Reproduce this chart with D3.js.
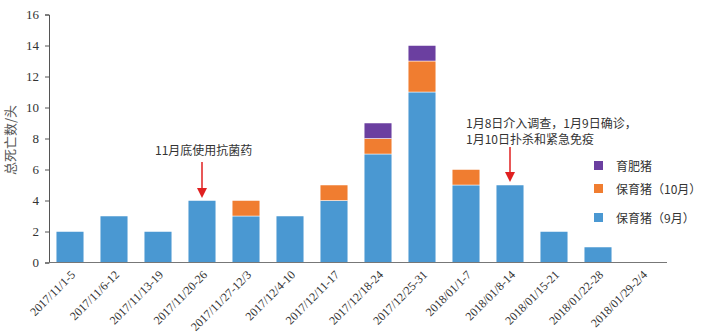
<!DOCTYPE html>
<html><head><meta charset="utf-8">
<script src="https://cdn.jsdelivr.net/npm/d3@7"></script>
<style>body{margin:0;background:#fff;}svg{display:block;}</style>
</head><body>
<svg id="c" width="705" height="336"></svg>
<script>
const categories = ["2017/11/1-5","2017/11/6-12","2017/11/13-19","2017/11/20-26","2017/11/27-12/3","2017/12/4-10","2017/12/11-17","2017/12/18-24","2017/12/25-31","2018/01/1-7","2018/01/8-14","2018/01/15-21","2018/01/22-28","2018/01/29-2/4"];
const sept = [2,3,2,4,3,3,4,7,11,5,5,2,1,0];
const oct = [0,0,0,0,1,0,1,1,2,1,0,0,0,0];
const fattening = [0,0,0,0,0,0,0,1,1,0,0,0,0,0];
const seriesNames = ["保育猪（9月）","保育猪（10月）","育肥猪"];
const colors = ["#4A98D2","#F07D30","#6B3FA0"];
const yTicks = [0,2,4,6,8,10,12,14,16];
const yTitle = "总死亡数/头";
const note1 = {cat:"2017/11/20-26", lines:["11月底使用抗菌药"]};
const note2 = {cat:"2018/01/8-14", lines:["1月8日介入调查，1月9日确诊，","1月10日扑杀和紧急免疫"]};

const svg = d3.select("#c");
const x = d3.scaleBand().domain(categories).range([48,664]).paddingInner(0.37).paddingOuter(0.185);
const y = d3.scaleLinear().domain([0,16]).range([262.5,14.5]);

const data = categories.map((c,i)=>({cat:c, s0:sept[i], s1:oct[i], s2:fattening[i]}));
const stack = d3.stack().keys(["s0","s1","s2"])(data);

svg.append("g").selectAll("g").data(stack).join("g")
  .attr("fill",(d,i)=>colors[i])
  .selectAll("rect").data(d=>d.filter(v=>v[1]>v[0])).join("rect")
  .attr("x",d=>x(d.data.cat)).attr("width",x.bandwidth())
  .attr("y",d=>y(d[1])).attr("height",d=>y(d[0])-y(d[1]))
  .attr("stroke","#fff").attr("stroke-width",0.5);

// y axis
const ya = svg.append("g").attr("transform","translate(49,0)")
  .call(d3.axisLeft(y).tickValues(yTicks).tickSize(4).tickSizeOuter(4));
ya.select(".domain").attr("stroke","#555");
ya.selectAll(".tick line").attr("stroke","#555");
ya.selectAll("text").attr("font-family","Liberation Serif").attr("font-size",13).attr("fill","#333").attr("dx",-3);

// x axis
const xa = svg.append("g").attr("transform","translate(0,262.5)")
  .call(d3.axisBottom(x).tickSize(0).tickSizeOuter(0));
xa.select(".domain").remove();
svg.append("line").attr("x1",49).attr("x2",667).attr("y1",262.5).attr("y2",262.5).attr("stroke","#777").attr("stroke-width",1.2);
xa.selectAll("text").attr("font-family","Liberation Serif").attr("font-size",12).attr("fill","#333")
  .attr("text-anchor","end").attr("transform","translate(-2,5) rotate(-45)").attr("dy","0.7em");

// y title
svg.append("text").attr("transform","translate(15,140) rotate(-90)").attr("text-anchor","middle")
  .attr("font-family","Noto Sans CJK SC").attr("font-size",13).attr("fill","#555").text(yTitle);

// annotations
function arrow(cx, y1, y2){
  svg.append("line").attr("x1",cx).attr("x2",cx).attr("y1",y1).attr("y2",y2-8).attr("stroke","#E02020").attr("stroke-width",1.5);
  svg.append("path").attr("d",`M${cx-5},${y2-10}L${cx+5},${y2-10}L${cx},${y2}Z`).attr("fill","#E02020");
}
const c1 = x(note1.cat)+x.bandwidth()/2;
svg.append("text").attr("x",155).attr("y",155).attr("font-family","Noto Sans CJK SC, Liberation Sans").attr("font-size",12).attr("fill","#333").text(note1.lines[0]);
arrow(c1,162,198);
const c2 = x(note2.cat)+x.bandwidth()/2;
note2.lines.forEach((t,i)=>svg.append("text").attr("x",466).attr("y",128+i*15.5).attr("font-family","Noto Sans CJK SC, Liberation Sans").attr("font-size",12).attr("fill","#333").text(t));
arrow(c2,147,182);

// legend
const legY = [218,189,166];
seriesNames.forEach((n,i)=>{
  svg.append("rect").attr("x",594).attr("y",legY[i]-5).attr("width",9).attr("height",9).attr("fill",colors[i]);
  svg.append("text").attr("x",616).attr("y",legY[i]+4.5).attr("font-family","Noto Sans CJK SC, Liberation Sans").attr("font-size",12).attr("fill","#333").text(n);
});
</script>
</body></html>
